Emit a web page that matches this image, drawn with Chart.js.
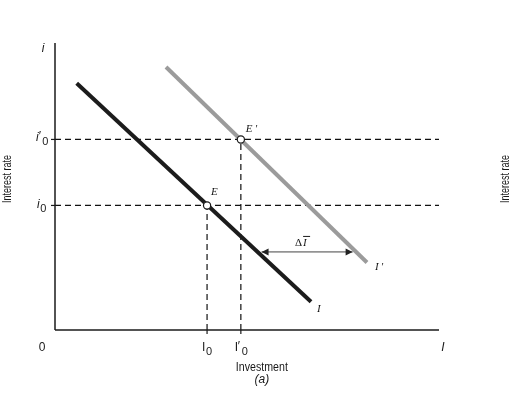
<!DOCTYPE html>
<html><head><meta charset="utf-8">
<script src="https://cdn.jsdelivr.net/npm/chart.js@4"></script>
<style>html,body{margin:0;padding:0;background:#fff}#wrap{width:520px;height:396px;position:relative}</style>
</head><body><div id="wrap"><canvas id="c" width="520" height="396"></canvas></div>
<script>
// Values (investment on x, interest rate on y, both 0..100)
const curveI_x = [5.65, 66.67];
const curveI_y = [85.96, 9.86];
const curveIp_x = [28.91, 81.25];
const curveIp_y = [91.64, 23.52];
const rateLevels = [43.4, 66.4];      // i0, i'0
const invLevels = [39.6, 48.4];       // I0, I'0
const shiftX = [53.8, 77.5];          // ΔI arrow from/to
const shiftY = [27.2, 27.2];
const axisMax = [100, 100];
const axisTitleX = ['Investment', '(a)'];
const axisTitleY = 'Interest rate';

const pts = (xs, ys) => xs.map((x, i) => ({x, y: ys[i]}));
const INK = '#1a1a1a';

const datasets = [
  {label:'E', data:[{x:invLevels[0], y:rateLevels[0]}, {x:invLevels[1], y:rateLevels[1]}],
   showLine:false, pointRadius:3.6, pointBackgroundColor:'#fff', pointBorderColor:INK, pointBorderWidth:1.2, order:0},
  {label:'I', data:pts(curveI_x, curveI_y), showLine:true, borderColor:'#1c1c1c', borderWidth:4, pointRadius:0, order:1},
  {label:"I'", data:pts(curveIp_x, curveIp_y), showLine:true, borderColor:'#9b9b9b', borderWidth:4, pointRadius:0, order:1},
  {label:'shift', data:pts(shiftX, shiftY), showLine:true, borderColor:'#444', borderWidth:1, pointRadius:0, order:1},
  {label:'xaxis', data:[{x:0,y:0},{x:axisMax[0],y:0}], showLine:true, borderColor:INK, borderWidth:1.5, pointRadius:0, order:2},
  {label:'yaxis', data:[{x:0,y:0},{x:0,y:axisMax[1]}], showLine:true, borderColor:INK, borderWidth:1.5, pointRadius:0, order:2},
];
rateLevels.forEach((r, k) => datasets.push({label:'h'+k, data:[{x:0,y:r},{x:axisMax[0],y:r}], showLine:true,
  borderColor:'#111', borderWidth:1.2, borderDash:[6,4], pointRadius:0, order:3}));
invLevels.forEach((v, k) => datasets.push({label:'v'+k, data:[{x:v,y:0},{x:v,y:rateLevels[k]}], showLine:true,
  borderColor:'#111', borderWidth:1.2, borderDash:[6,4], pointRadius:0, order:3}));
datasets.forEach(d => d.clip = false);

function sub(ctx, x, y, base, baseFont, prime, subTxt, subFont, drop) {
  ctx.font = baseFont; ctx.textAlign = 'left'; ctx.textBaseline = 'alphabetic';
  ctx.fillText(base, x, y);
  let w = ctx.measureText(base).width;
  if (prime) { ctx.fillText('\u2032', x + w - 0.5, y - 1); w += 3; }
  if (subTxt) { ctx.font = subFont; ctx.fillText(subTxt, x + w + 0.5, y + drop); }
}

const decor = {
  id:'decor',
  afterDatasetsDraw(chart) {
    const ctx = chart.ctx, xs = chart.scales.x, ys = chart.scales.y;
    ctx.save();
    ctx.fillStyle = INK; ctx.strokeStyle = INK;
    const x0 = xs.getPixelForValue(0), y0 = ys.getPixelForValue(0);
    // ticks
    ctx.lineWidth = 1.2;
    invLevels.forEach(v => { const px = xs.getPixelForValue(v); ctx.beginPath(); ctx.moveTo(px, y0); ctx.lineTo(px, y0 + 4); ctx.stroke(); });
    rateLevels.forEach(r => { const py = ys.getPixelForValue(r); ctx.beginPath(); ctx.moveTo(x0 - 4, py); ctx.lineTo(x0, py); ctx.stroke(); });
    // arrow heads
    const ay = ys.getPixelForValue(shiftY[0]);
    const ax1 = xs.getPixelForValue(shiftX[0]), ax2 = xs.getPixelForValue(shiftX[1]);
    ctx.fillStyle = '#222';
    ctx.beginPath(); ctx.moveTo(ax1, ay); ctx.lineTo(ax1 + 7, ay - 3.5); ctx.lineTo(ax1 + 7, ay + 3.5); ctx.closePath(); ctx.fill();
    ctx.beginPath(); ctx.moveTo(ax2, ay); ctx.lineTo(ax2 - 7, ay - 3.5); ctx.lineTo(ax2 - 7, ay + 3.5); ctx.closePath(); ctx.fill();
    ctx.fillStyle = INK;
    // axis letters
    const sans = 'Liberation Sans';
    ctx.font = 'italic 12px ' + sans; ctx.textAlign = 'center'; ctx.textBaseline = 'alphabetic';
    ctx.fillText('i', x0 - 12, ys.getPixelForValue(axisMax[1]) + 9);
    ctx.fillText('I', xs.getPixelForValue(axisMax[0]) + 4, y0 + 21);
    ctx.font = '12px ' + sans;
    ctx.fillText('0', x0 - 13, y0 + 21);
    const r0 = ys.getPixelForValue(rateLevels[0]), r1 = ys.getPixelForValue(rateLevels[1]);
    sub(ctx, x0 - 18, r0 + 3, 'i', 'italic 12px ' + sans, false, '0', '11px ' + sans, 4);
    sub(ctx, x0 - 19, r1 + 2, 'i', 'italic 12px ' + sans, true, '0', '11px ' + sans, 4);
    const v0 = xs.getPixelForValue(invLevels[0]), v1 = xs.getPixelForValue(invLevels[1]);
    sub(ctx, v0 - 5, y0 + 21, 'I', '12px ' + sans, false, '0', '11px ' + sans, 4);
    sub(ctx, v1 - 6, y0 + 21, 'I', '12px ' + sans, true, '0', '11px ' + sans, 4);
    // axis titles
    ctx.font = '12px ' + sans; ctx.textAlign = 'center';
    ctx.fillText(axisTitleX[0], v1 + 21, y0 + 41, 52);
    ctx.font = 'italic 12px ' + sans;
    ctx.fillText(axisTitleX[1], v1 + 21, y0 + 53);
    ctx.font = '12px ' + sans;
    [8, 506].forEach(px => {
      ctx.save(); ctx.translate(px, 179); ctx.rotate(-Math.PI / 2);
      ctx.textBaseline = 'middle'; ctx.fillText(axisTitleY, 0, 0, 48); ctx.restore();
    });
    // curve labels (serif italic)
    const serif = 'italic 11px "Liberation Serif"';
    ctx.font = serif; ctx.textAlign = 'left'; ctx.textBaseline = 'alphabetic';
    ctx.fillText('E', v0 + 4, r0 - 10);
    ctx.fillText('E\u2009\u2032', v1 + 5, r1 - 7);
    const iEnd = {x: xs.getPixelForValue(curveI_x[1]), y: ys.getPixelForValue(curveI_y[1])};
    const ipEnd = {x: xs.getPixelForValue(curveIp_x[1]), y: ys.getPixelForValue(curveIp_y[1])};
    ctx.fillText('I', iEnd.x + 6, iEnd.y + 10);
    ctx.fillText('I\u2009\u2032', ipEnd.x + 8, ipEnd.y + 8);
    // ΔI label
    const lx = (ax1 + ax2) / 2 - 6, ly = ay - 6;
    ctx.font = '11px "Liberation Serif"'; ctx.fillText('\u0394', lx - 6, ly);
    ctx.font = serif; ctx.fillText('I', lx + 2, ly);
    ctx.lineWidth = 1; ctx.beginPath(); ctx.moveTo(lx + 2, ly - 9.5); ctx.lineTo(lx + 9, ly - 9.5); ctx.stroke();
    ctx.restore();
  }
};

new Chart(document.getElementById('c'), {
  type:'scatter',
  data:{datasets},
  options:{
    responsive:false, animation:false, devicePixelRatio:1,
    layout:{padding:{left:55, right:81, top:43, bottom:66}},
    scales:{
      x:{type:'linear', min:0, max:axisMax[0], display:false},
      y:{type:'linear', min:0, max:axisMax[1], display:false}
    },
    plugins:{legend:{display:false}, tooltip:{enabled:false}}
  },
  plugins:[decor]
});
</script></body></html>
